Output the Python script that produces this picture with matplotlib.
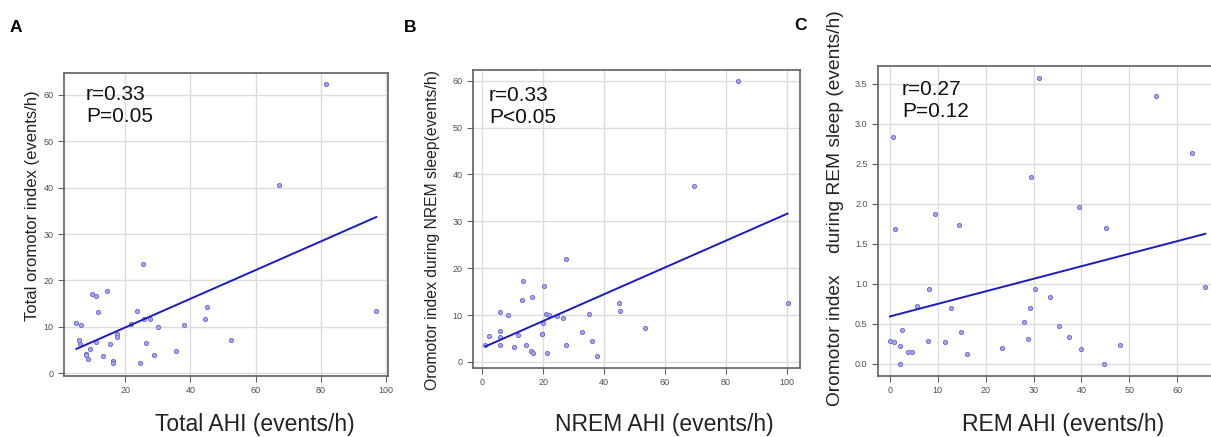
import matplotlib
matplotlib.use("Agg")
import matplotlib.pyplot as plt
import numpy as np

plt.rcParams['font.family'] = ['Liberation Sans', 'DejaVu Sans']

# ---------------- data ----------------
# Panel A: Total AHI vs total oromotor index
a_x = [81.7, 67.3, 97.0, 25.5, 14.4, 9.8, 11.0, 11.7, 23.6, 45.0, 44.4, 27.7,
       25.7, 21.9, 5.0, 6.4, 38.1, 30.0, 17.5, 17.5, 52.3, 5.7, 6.1, 11.0,
       15.4, 26.3, 9.3, 35.6, 8.1, 8.0, 13.3, 28.9, 8.5, 16.1, 16.1, 24.5]
a_y = [62.4, 40.6, 13.4, 23.6, 17.7, 17.1, 16.6, 13.3, 13.5, 14.2, 11.7, 11.7,
       11.7, 10.7, 10.9, 10.3, 10.3, 9.9, 8.4, 7.7, 7.1, 7.1, 6.4, 6.7,
       6.4, 6.6, 5.3, 4.8, 4.2, 3.9, 3.7, 3.9, 3.0, 2.6, 2.3, 2.2]
a_fit = (3.69, 0.309)  # intercept, slope

# Panel B: NREM AHI vs oromotor index during NREM sleep
b_x = [83.8, 69.4, 100.2, 27.4, 13.4, 20.2, 16.4, 13.0, 44.9, 45.2, 6.0, 8.4,
       21.1, 22.0, 35.1, 26.4, 24.4, 20.0, 53.6, 5.9, 32.8, 19.8, 19.8, 11.7,
       2.1, 5.9, 36.2, 1.1, 5.9, 14.5, 27.4, 10.5, 16.0, 16.8, 21.3, 37.6]
b_y = [59.9, 37.6, 12.5, 21.9, 17.2, 16.1, 13.9, 13.2, 12.5, 10.9, 10.7, 10.1,
       10.3, 10.1, 10.2, 9.4, 9.9, 8.2, 7.2, 6.7, 6.4, 6.0, 5.9, 5.8,
       5.5, 5.3, 4.4, 3.7, 3.6, 3.6, 3.6, 3.1, 2.3, 2.0, 2.0, 1.3]
b_fit = (3.0, 0.286)

# Panel C: REM AHI vs oromotor index during REM sleep
c_x = [31.2, 55.6, 63.1, 0.56, 29.4, 39.6, 9.5, 14.4, 1.1, 45.2, 65.9, 30.3,
       8.2, 33.4, 5.6, 12.8, 29.2, 28.0, 35.3, 2.6, 14.9, 37.4, 28.8, 0.0,
       0.84, 8.0, 11.5, 48.0, 2.2, 23.5, 39.9, 3.8, 4.5, 16.2, 2.1, 44.8]
c_y = [3.57, 3.35, 2.64, 2.83, 2.33, 1.96, 1.87, 1.74, 1.68, 1.70, 0.96, 0.94,
       0.94, 0.84, 0.72, 0.70, 0.70, 0.52, 0.47, 0.43, 0.40, 0.34, 0.31, 0.29,
       0.27, 0.29, 0.28, 0.24, 0.23, 0.20, 0.19, 0.15, 0.15, 0.13, 0.0, 0.0]
c_fit = (0.594, 0.01565)

panel_letters = ["A", "B", "C"]
stats_text = ["r=0.33\nP=0.05", "r=0.33\nP<0.05", "r=0.27\nP=0.12"]
x_labels = ["Total AHI (events/h)", "NREM AHI (events/h)", "REM AHI (events/h)"]
y_labels = ["Total oromotor index (events/h)",
            "Oromotor index during NREM sleep(events/h)",
            "Oromotor index    during REM sleep (events/h)"]
x_ticks = [[20, 40, 60, 80, 100], [0, 20, 40, 60, 80, 100], [0, 10, 20, 30, 40, 50, 60]]
y_ticks = [[0, 10, 20, 30, 40, 50, 60], [0, 10, 20, 30, 40, 50, 60],
           [0.0, 0.5, 1.0, 1.5, 2.0, 2.5, 3.0, 3.5]]

# ---------------- layout ----------------
W, H = 1211, 437
fig = plt.figure(figsize=(W / 100, H / 100), dpi=100)

def rect(l, r, t, b):
    return [l / W, (H - b) / H, (r - l) / W, (b - t) / H]

axes_rects = [rect(64, 388, 73, 376), rect(473, 800, 70, 368), rect(878, 1213, 66, 376)]
xlims = [(1.2, 100.6), (-3.0, 104.3), (-2.5, 67.5)]
ylims = [(-0.6, 64.7), (-1.3, 62.3), (-0.15, 3.72)]
text_pos = [(0.068, 0.962), (0.049, 0.945), (0.072, 0.955)]
letter_pos = [(10, 32), (404, 32), (794, 30)]
xlabel_pos = [(255, 425), (664, 425), (1063, 425)]
ylabel_pos = [(33, 206), (433, 230), (835, 208)]
ylabel_size = [12, 11.3, 13.8]

data = [(a_x, a_y, a_fit), (b_x, b_y, b_fit), (c_x, c_y, c_fit)]

for i, (xs, ys, fit) in enumerate(data):
    ax = fig.add_axes(axes_rects[i])
    ax.set_xlim(*xlims[i])
    ax.set_ylim(*ylims[i])
    ax.set_xticks(x_ticks[i])
    ax.set_yticks(y_ticks[i])
    if i == 2:
        ax.set_yticklabels([f"{v:.1f}" for v in y_ticks[i]])
    ax.grid(True, color='#dcdcdc', linewidth=1.0)
    ax.set_axisbelow(True)
    for s in ax.spines.values():
        s.set_color('#606060')
        s.set_linewidth(1.2)
    ax.tick_params(axis='both', labelsize=6.5, colors='#606060', length=4,
                   width=0.8, labelcolor='#505050')
    ax.scatter(xs, ys, s=9, facecolor='#a8a8ee', edgecolor='#7070d8',
               linewidth=0.7, zorder=3)
    xa = np.array([min(xs), max(xs)])
    ax.plot(xa, fit[0] + fit[1] * xa, color='#1a1ac8', linewidth=1.4, zorder=4)
    ax.text(text_pos[i][0], text_pos[i][1], stats_text[i], transform=ax.transAxes,
            fontsize=15, va='top', ha='left', linespacing=1.2, color='#111111')

    fig.text(letter_pos[i][0] / W, 1 - letter_pos[i][1] / H, panel_letters[i],
             fontsize=12.5, fontweight='bold', ha='left', va='baseline')
    fig.text(xlabel_pos[i][0] / W, 1 - xlabel_pos[i][1] / H, x_labels[i],
             fontsize=16.5, ha='center', va='center', color='#222222')
    fig.text(ylabel_pos[i][0] / W, 1 - ylabel_pos[i][1] / H, y_labels[i],
             fontsize=ylabel_size[i], ha='center', va='center', rotation=90,
             color='#222222')

fig.savefig("out.png", dpi=100)
